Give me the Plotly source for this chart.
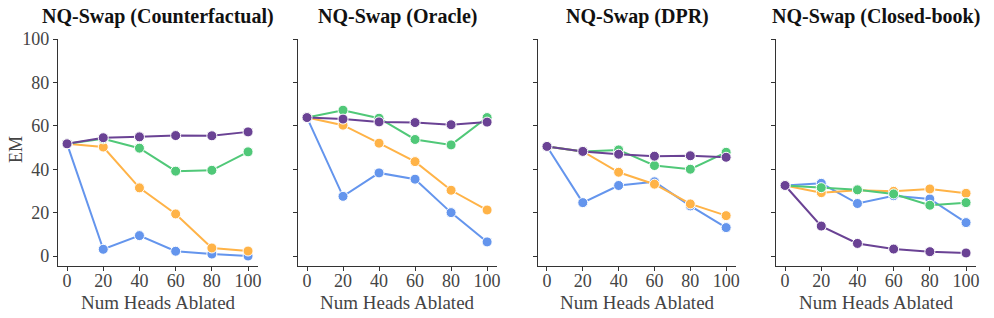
import plotly.graph_objects as go

x_vals = [0, 20, 40, 60, 80, 100]
titles = ["NQ-Swap (Counterfactual)", "NQ-Swap (Oracle)", "NQ-Swap (DPR)", "NQ-Swap (Closed-book)"]
series_names = ["blue", "orange", "green", "purple"]
colors = {"blue": "#6495ED", "orange": "#FFB347", "green": "#50C878", "purple": "#6A4294"}

counterfactual = {
    "blue":   [51.7, 3.1, 9.4, 2.2, 0.9, 0.0],
    "orange": [51.7, 50.2, 31.4, 19.4, 3.7, 2.3],
    "green":  [51.7, 54.0, 49.7, 39.1, 39.5, 48.0],
    "purple": [51.7, 54.5, 54.9, 55.5, 55.4, 57.2],
}
oracle = {
    "blue":   [63.8, 27.5, 38.3, 35.4, 20.0, 6.5],
    "orange": [63.8, 60.3, 52.0, 43.5, 30.3, 21.2],
    "green":  [63.8, 67.2, 63.5, 53.7, 51.2, 63.8],
    "purple": [63.8, 63.1, 61.8, 61.5, 60.5, 61.7],
}
dpr = {
    "blue":   [50.5, 24.6, 32.5, 34.2, 23.1, 13.1],
    "orange": [50.5, 48.2, 38.6, 33.1, 24.0, 18.6],
    "green":  [50.5, 48.2, 48.9, 41.7, 40.0, 47.8],
    "purple": [50.5, 48.2, 46.9, 46.0, 46.2, 45.5],
}
closed_book = {
    "blue":   [32.5, 33.5, 24.2, 27.8, 26.3, 15.4],
    "orange": [32.5, 29.2, 30.3, 29.8, 30.9, 28.9],
    "green":  [32.5, 31.5, 30.5, 28.6, 23.4, 24.6],
    "purple": [32.5, 13.8, 5.8, 3.2, 2.0, 1.4],
}
panels = [counterfactual, oracle, dpr, closed_book]
y_ticks = [0, 20, 40, 60, 80, 100]

W, H = 994, 318
x_pix = [(58, 258), (298, 497), (538, 736), (776, 976)]
y_top, y_bot = 39, 266
y_dom = [(H - y_bot) / H, (H - y_top) / H]

FONT = "Liberation Serif, Times New Roman, serif"
fig = go.Figure()
layout = dict(
    width=W, height=H, margin=dict(l=0, r=0, t=0, b=0, pad=0),
    paper_bgcolor="white", plot_bgcolor="white", showlegend=False,
    font=dict(family=FONT, size=18, color="#444444"),
)
annotations = []
for i, data in enumerate(panels):
    xa = "x" if i == 0 else f"x{i+1}"
    ya = "y" if i == 0 else f"y{i+1}"
    for s in series_names:
        fig.add_trace(go.Scatter(
            x=x_vals, y=data[s], mode="lines+markers", xaxis=xa, yaxis=ya,
            line=dict(color=colors[s], width=2),
            marker=dict(color=colors[s], size=10, line=dict(color="white", width=1)),
            cliponaxis=False, name=s,
        ))
    d = (x_pix[i][0] / W, x_pix[i][1] / W)
    layout["xaxis" if i == 0 else f"xaxis{i+1}"] = dict(
        domain=d, anchor=ya, range=[-5, 105.5], tickvals=x_vals, automargin=False,
        ticks="outside", ticklen=4, tickcolor="#333", showline=True, linecolor="#333",
        linewidth=1.2, showgrid=False, zeroline=False, ticklabelstandoff=-6,
        tickfont=dict(family=FONT, size=18),
    )
    layout["yaxis" if i == 0 else f"yaxis{i+1}"] = dict(
        domain=y_dom, anchor=xa, range=[-4.6, 100], tickvals=y_ticks, automargin=False,
        ticks="outside", ticklen=4, tickcolor="#333", showline=True, linecolor="#333",
        linewidth=1.2, showgrid=False, zeroline=False, showticklabels=(i == 0),
        tickfont=dict(family=FONT, size=18),
    )
    cx = (x_pix[i][0] + x_pix[i][1]) / 2 / W
    annotations.append(dict(
        text="<b>" + titles[i] + "</b>", x=cx, y=(H - 17) / H,
        xref="paper", yref="paper", showarrow=False, xanchor="center", yanchor="middle",
        font=dict(family=FONT, size=20, color="#111"),
    ))
    annotations.append(dict(
        text="Num Heads Ablated", x=cx, y=(H - 302) / H,
        xref="paper", yref="paper", showarrow=False, xanchor="center", yanchor="middle",
        font=dict(family=FONT, size=19, color="#444"),
    ))
annotations.append(dict(
    text="EM", x=16 / W, y=(H - 150) / H, textangle=-90,
    xref="paper", yref="paper", showarrow=False, xanchor="center", yanchor="middle",
    font=dict(family=FONT, size=18, color="#444"),
))
layout["annotations"] = annotations
fig.update_layout(**layout)
fig.write_html(
    "out.html",
    config={"displayModeBar": False},
    post_script="document.body.style.margin='0';document.body.style.padding='0';",
)
